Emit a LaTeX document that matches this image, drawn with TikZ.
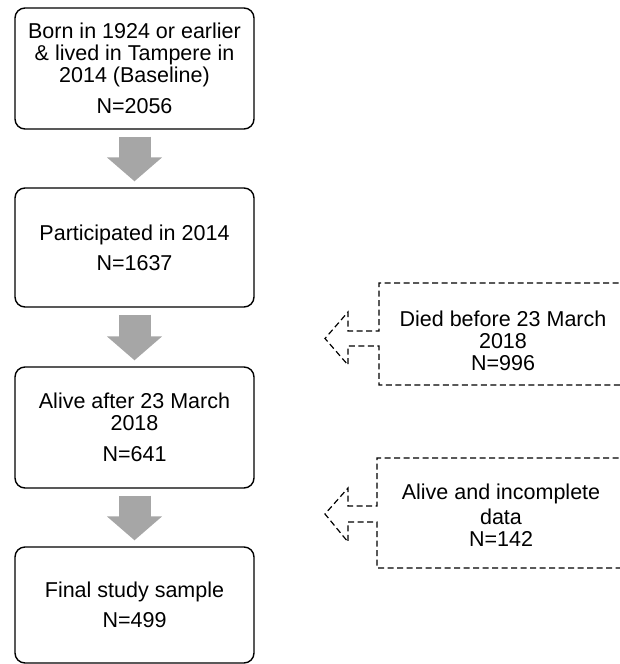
\documentclass[tikz,border=0pt]{standalone}
\usepackage{fontspec}
\setmainfont{Liberation Sans}
\usetikzlibrary{arrows.meta,positioning}
\definecolor{arrowgray}{RGB}{166,166,166}

\begin{document}
\begin{tikzpicture}[x=1pt,y=-1pt,
  every node/.style={font=\fontsize{21.5}{21.8}\selectfont},
  stage/.style={draw,line width=1.4pt,rounded corners=10pt,minimum width=239pt,align=center,inner sep=0pt},
  excl/.style={align=center,inner sep=0pt},
  down/.style={draw=arrowgray,line width=32pt,-{Triangle[width=54pt,length=24pt]},shorten <=7pt,shorten >=6pt},
  callout/.style={draw,line width=1.2pt,dash pattern=on 6pt off 3.5pt}]
  \useasboundingbox (0,0) rectangle (619,664);

  \node[stage,minimum height=121pt] (s1) at (134.5,68.5) {Born in 1924 or earlier\\ \& lived in Tampere in\\ 2014 (Baseline)\\[10pt] N=2056};
  \node[stage,minimum height=119pt] (s2) at (134.5,247.5) {Participated in 2014\\[8.5pt] N=1637};
  \node[stage,minimum height=121pt] (s3) at (134.5,427.5) {Alive after 23 March\\ 2018\\[9.5pt] N=641};
  \node[stage,minimum height=116pt] (s4) at (134.5,605) {Final study sample\\[8pt] N=499};

  \draw[down] (s1) -- (s2);
  \draw[down] (s2) -- (s3);
  \draw[down] (s3) -- (s4);

  % excluded
  \draw[callout] (628,283) -- (379,283) -- (379,331) -- (348,331) -- (348,312) -- (325,338.5)
    -- (348,365) -- (348,346) -- (379,346) -- (379,385) -- (628,385);
  \node[excl] (e1) at (503,341) {Died before 23 March\\ 2018\\ N=996};

  \draw[callout] (628,458) -- (377,458) -- (377,506) -- (348,506) -- (348,488) -- (325,514)
    -- (348,542) -- (348,522) -- (377,522) -- (377,568) -- (628,568);
  \node[excl] (e2) at (501,515) {Alive and incomplete\\[3.5pt] data\\[0pt] N=142};
\end{tikzpicture}
\end{document}
